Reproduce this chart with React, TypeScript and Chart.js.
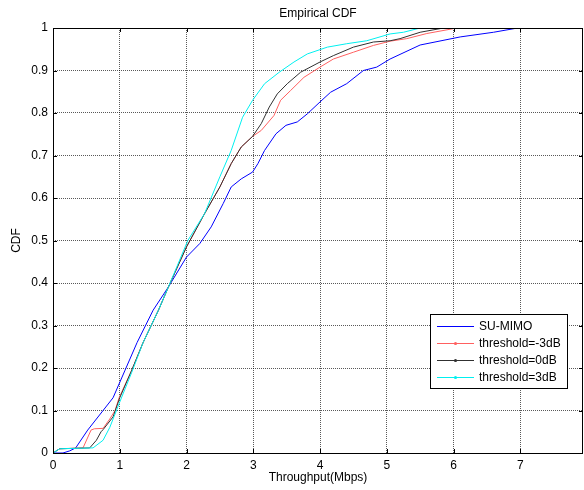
import React, { useEffect, useRef } from "react";
import { Chart, registerables } from "chart.js";

Chart.register(...registerables);

const TITLE = "Empirical CDF";
const X_LABEL = "Throughput(Mbps)";
const Y_LABEL = "CDF";
const X_TICKS = [0, 1, 2, 3, 4, 5, 6, 7];
const Y_TICKS = [0, 0.1, 0.2, 0.3, 0.4, 0.5, 0.6, 0.7, 0.8, 0.9, 1];
const X_MAX = 7.94;

const SERIES_NAMES = ["SU-MIMO", "threshold=-3dB", "threshold=0dB", "threshold=3dB"];
const SERIES_COLORS = ["#0000ff", "#ff6060", "#303030", "#00f0f0"];

const SU_MIMO_X = [0, 0.15, 0.25, 0.34, 0.52, 0.75, 0.9, 1.08, 1.26, 1.5, 1.73, 2.0, 2.2, 2.37, 2.55, 2.67, 2.82, 2.99, 3.07, 3.17, 3.34, 3.49, 3.66, 3.81, 4.0, 4.16, 4.4, 4.65, 4.85, 5.05, 5.5, 6.1, 6.6, 6.96, 7.1];
const SU_MIMO_CDF = [0, 0, 0.005, 0.012, 0.054, 0.1, 0.13, 0.195, 0.26, 0.336, 0.391, 0.461, 0.493, 0.532, 0.587, 0.626, 0.645, 0.661, 0.681, 0.712, 0.751, 0.771, 0.779, 0.798, 0.826, 0.849, 0.869, 0.9, 0.908, 0.927, 0.96, 0.979, 0.99, 1, 1];

const TH_M3_X = [0, 0.05, 0.1, 0.45, 0.57, 0.62, 0.75, 0.85, 0.93, 0.99, 1.18, 1.35, 1.58, 1.73, 2.0, 2.27, 2.5, 2.67, 2.82, 2.99, 3.12, 3.31, 3.41, 3.56, 3.76, 4.0, 4.2, 4.5, 4.8, 5.05, 5.3, 5.6, 6.05];
const TH_M3_CDF = [0, 0.005, 0.01, 0.012, 0.054, 0.057, 0.058, 0.08, 0.1, 0.13, 0.195, 0.26, 0.336, 0.391, 0.485, 0.563, 0.626, 0.681, 0.72, 0.745, 0.759, 0.794, 0.83, 0.853, 0.884, 0.908, 0.927, 0.943, 0.959, 0.969, 0.975, 0.987, 1];

const TH_0_X = [0, 0.05, 0.1, 0.55, 0.65, 0.72, 0.75, 0.9, 1.0, 1.18, 1.35, 1.58, 1.73, 2.0, 2.27, 2.5, 2.67, 2.82, 2.99, 3.12, 3.24, 3.36, 3.51, 3.71, 4.0, 4.2, 4.5, 4.8, 5.05, 5.2, 5.5, 5.85];
const TH_0_CDF = [0, 0.005, 0.01, 0.012, 0.03, 0.05, 0.055, 0.085, 0.13, 0.195, 0.26, 0.336, 0.391, 0.485, 0.563, 0.626, 0.681, 0.72, 0.745, 0.775, 0.814, 0.845, 0.869, 0.896, 0.92, 0.935, 0.955, 0.967, 0.97, 0.975, 0.99, 1];

const TH_3_X = [0, 0.1, 0.6, 0.75, 0.85, 1.0, 1.18, 1.35, 1.58, 1.73, 2.02, 2.27, 2.5, 2.67, 2.84, 2.99, 3.17, 3.39, 3.61, 3.81, 4.11, 4.4, 4.7, 5.05, 5.25, 5.5];
const TH_3_CDF = [0, 0.01, 0.012, 0.03, 0.06, 0.12, 0.19, 0.26, 0.336, 0.391, 0.5, 0.563, 0.65, 0.712, 0.79, 0.83, 0.869, 0.896, 0.92, 0.939, 0.955, 0.963, 0.97, 0.986, 0.99, 1];

const SERIES_X = [SU_MIMO_X, TH_M3_X, TH_0_X, TH_3_X];
const SERIES_CDF = [SU_MIMO_CDF, TH_M3_CDF, TH_0_CDF, TH_3_CDF];
const SERIES_MARKER = [false, true, true, true];

const FONT = "'Liberation Sans', Arial, sans-serif";

const framePlugin = {
  id: "frame",
  afterDatasetsDraw(chart: any) {
    const { ctx, chartArea } = chart;
    const { left, right, top, bottom } = chartArea;
    const xs = chart.scales.x;
    const ys = chart.scales.y;
    ctx.save();
    ctx.strokeStyle = "#000";
    ctx.lineWidth = 1;
    ctx.strokeRect(Math.round(left) + 0.5, Math.round(top) + 0.5, Math.round(right - left) - 1, Math.round(bottom - top));
    const tl = 4;
    ctx.beginPath();
    X_TICKS.forEach((v) => {
      const px = Math.round(xs.getPixelForValue(v)) + 0.5;
      ctx.moveTo(px, bottom);
      ctx.lineTo(px, bottom - tl);
      ctx.moveTo(px, top);
      ctx.lineTo(px, top + tl);
    });
    Y_TICKS.forEach((v) => {
      const py = Math.round(ys.getPixelForValue(v)) + 0.5;
      ctx.moveTo(left, py);
      ctx.lineTo(left + tl, py);
      ctx.moveTo(right, py);
      ctx.lineTo(right - tl, py);
    });
    ctx.stroke();
    ctx.fillStyle = "#000";
    ctx.font = `12px ${FONT}`;
    ctx.textAlign = "center";
    ctx.textBaseline = "middle";
    ctx.fillText(TITLE, (left + right) / 2, 14);
    ctx.restore();
  },
  afterDraw(chart: any) {
    const { ctx, chartArea } = chart;
    const bx = chartArea.right - 153;
    const by = chartArea.bottom - 139;
    const bw = 137;
    const bh = 74;
    ctx.save();
    ctx.fillStyle = "#fff";
    ctx.fillRect(bx, by, bw, bh);
    ctx.strokeStyle = "#000";
    ctx.lineWidth = 1;
    ctx.strokeRect(bx + 0.5, by + 0.5, bw, bh);
    ctx.font = `12px ${FONT}`;
    ctx.textAlign = "left";
    ctx.textBaseline = "middle";
    SERIES_NAMES.forEach((name, i) => {
      const y = Math.round(by + 12 + i * 16.9) + 0.5;
      ctx.strokeStyle = SERIES_COLORS[i];
      ctx.beginPath();
      ctx.moveTo(bx + 7, y);
      ctx.lineTo(bx + 44, y);
      ctx.stroke();
      if (SERIES_MARKER[i]) {
        ctx.fillStyle = SERIES_COLORS[i];
        ctx.beginPath();
        ctx.arc(bx + 25.5, y, 1.6, 0, Math.PI * 2);
        ctx.fill();
      }
      ctx.fillStyle = "#000";
      ctx.fillText(name, bx + 49, y + 0.5);
    });
    ctx.restore();
  },
};

export default function App() {
  const ref = useRef<HTMLCanvasElement | null>(null);
  useEffect(() => {
    if (!ref.current) return;
    const datasets = SERIES_NAMES.map((name, i) => ({
      label: name,
      data: SERIES_X[i].map((x, j) => ({ x, y: SERIES_CDF[i][j] })),
      borderColor: SERIES_COLORS[i],
      backgroundColor: SERIES_COLORS[i],
      borderWidth: 1,
      showLine: true,
      pointRadius: 0,
      tension: 0,
      fill: false,
      order: SERIES_NAMES.length - i,
    }));
    const grid = {
      color: "rgba(0,0,0,0.65)",
      lineWidth: 1,
      drawTicks: false,
    };
    const chart = new Chart(ref.current, {
      type: "scatter",
      data: { datasets },
      plugins: [framePlugin],
      options: {
        animation: false,
        responsive: false,
        devicePixelRatio: 1,
        layout: { padding: { left: 0, top: 28, right: 1, bottom: 0 } },
        plugins: {
          legend: { display: false },
          tooltip: { enabled: false },
          title: { display: false },
        },
        scales: {
          x: {
            type: "linear",
            min: 0,
            max: X_MAX,
            border: { display: false, dash: [1, 1] },
            grid: { ...grid },
            afterBuildTicks: (s: any) => {
              s.ticks = X_TICKS.map((v) => ({ value: v }));
            },
            afterFit: (s: any) => {
              s.height = 37;
            },
            ticks: {
              padding: 5,
              color: "#000",
              font: { family: FONT, size: 12 },
              maxRotation: 0,
              callback: (v: any) => String(v),
            },
            title: {
              display: true,
              text: X_LABEL,
              color: "#000",
              font: { family: FONT, size: 12 },
              padding: { top: 0, bottom: 5 },
            },
          },
          y: {
            type: "linear",
            min: 0,
            max: 1,
            border: { display: false, dash: [1, 1] },
            grid: { ...grid },
            afterBuildTicks: (s: any) => {
              s.ticks = Y_TICKS.map((v) => ({ value: v }));
            },
            afterFit: (s: any) => {
              s.width = 53;
            },
            ticks: {
              padding: 5,
              color: "#000",
              font: { family: FONT, size: 12 },
              callback: (v: any) => String(Number(Number(v).toFixed(1))),
            },
            title: {
              display: true,
              text: Y_LABEL,
              color: "#000",
              font: { family: FONT, size: 12 },
              padding: { top: 9, bottom: 0 },
            },
          },
        },
      },
    } as any);
    return () => chart.destroy();
  }, []);
  return (
    <div style={{ position: "absolute", left: 0, top: 0, width: 584, height: 490, background: "#fff" }}>
      <canvas ref={ref} width={584} height={490} style={{ display: "block" }} />
    </div>
  );
}
